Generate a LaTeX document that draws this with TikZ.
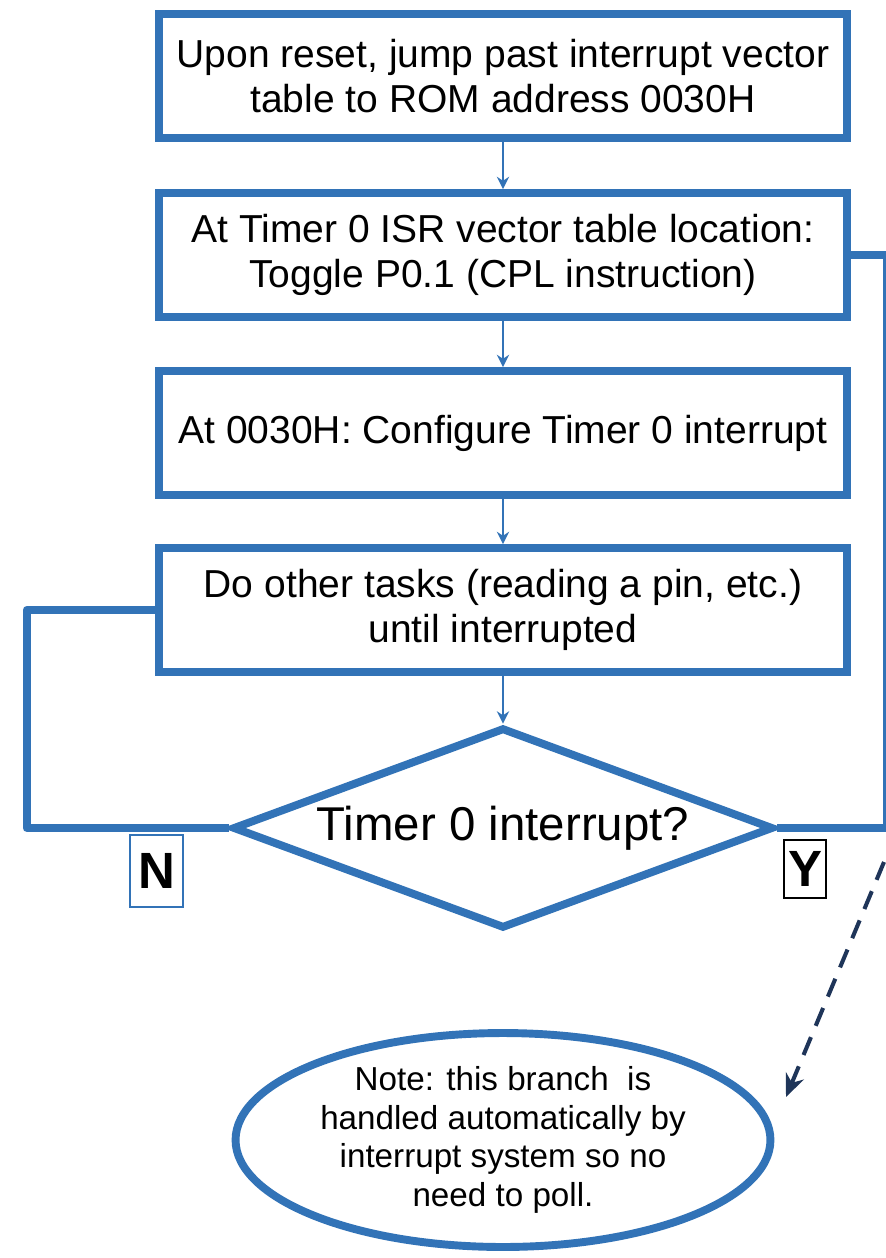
\documentclass[tikz,border=0pt]{standalone}
\usepackage{fontspec}
\setmainfont{Liberation Sans}
\usetikzlibrary{shapes.geometric,arrows.meta}

\definecolor{flowblue}{RGB}{50,115,183}
\definecolor{notenavy}{RGB}{31,53,89}

\begin{document}
\begin{tikzpicture}[x=0.02cm, y=-0.02cm,
        block/.style={draw=flowblue, line width=4.5pt, fill=white, align=center,
            minimum width=13.78cm, minimum height=2.48cm, inner sep=0pt,
            font=\fontsize{22.2}{25.6}\selectfont},
        decision/.style={diamond, draw=flowblue, line width=4.5pt, fill=white,
            minimum width=10.82cm, minimum height=4.02cm, aspect=2.7, inner sep=0pt,
            font=\fontsize{27}{30}\selectfont},
        flow/.style={draw=flowblue, line width=1.6pt, -{Stealth[length=7pt, width=7pt]}},
        loop/.style={draw=flowblue, line width=4.5pt, line join=round}]
    \useasboundingbox (0,0) rectangle (886,1258);

    \node (reset) at (503,76) [block] {Upon reset, jump past interrupt vector\\table to ROM address 0030H};
    \node (isr) at (503,255) [block] {At Timer 0 ISR vector table location:\\Toggle P0.1 (CPL instruction)};
    \node (config) at (503,433) [block] {At 0030H: Configure Timer 0 interrupt};
    \node (tasks) at (503,610) [block] {Do other tasks (reading a pin, etc.)\\until interrupted};
    \node (check) at (503,828) [decision] {Timer 0 interrupt?};

    \draw [flow] (reset) -- (isr);
    \draw [flow] (isr) -- (config);
    \draw [flow] (config) -- (tasks);
    \draw [flow] (tasks) -- (check);

    % no: back round the left side, yes: round the right side to the ISR
    \draw [loop] (check.west) -- ++(-202,0) |- (tasks.west);
    \draw [loop] (check.east) -- ++(110,0) |- (isr.east);

    \node (no) at (156.5,871) [draw=flowblue, line width=0.8pt, fill=white,
        minimum width=1.06cm, minimum height=1.44cm, inner sep=0pt,
        font=\bfseries\fontsize{29}{30}\selectfont] {N};
    \node (yes) at (805,869) [draw=black, line width=1pt, fill=white,
        minimum width=0.84cm, minimum height=1.16cm, inner sep=0pt,
        font=\bfseries\fontsize{29}{30}\selectfont] {Y};

    \node (note) at (503,1140) [ellipse, draw=flowblue, line width=4.5pt, fill=white,
        minimum width=10.7cm, minimum height=4.28cm, inner sep=0pt, align=center,
        font=\fontsize{18.9}{22}\selectfont]
        {Note: this branch\ \ is\\handled automatically by\\interrupt system so no\\need to poll.};

    \coordinate (branch) at (884,862);
    \coordinate (noteend) at (786,1097);
    \draw [notenavy, line width=2.3pt, dash pattern=on 11pt off 7pt,
        -{Stealth[length=13pt, width=11pt]}] (branch) -- (noteend);
\end{tikzpicture}
\end{document}
